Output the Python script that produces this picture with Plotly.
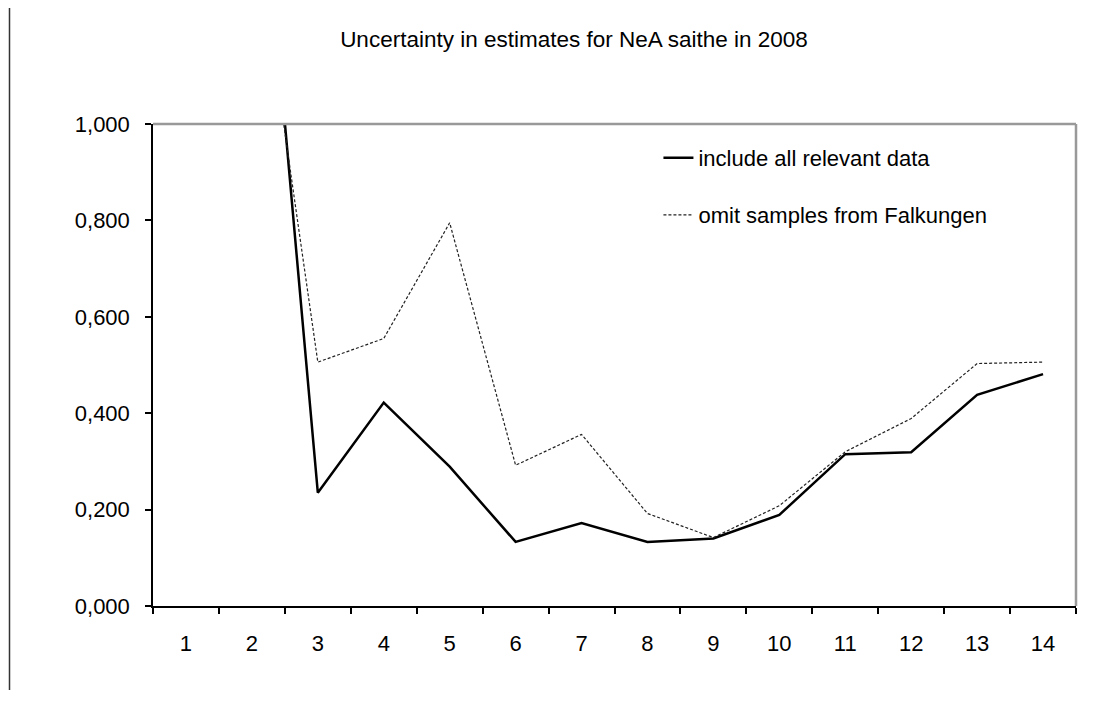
import plotly.graph_objects as go

categories = [str(i) for i in range(1, 15)]
all_data = [None, 1.77, 0.235, 0.422, 0.289, 0.133, 0.172, 0.133, 0.140, 0.189, 0.315, 0.319, 0.438, 0.481]
omit_falkungen = [None, 1.46, 0.506, 0.555, 0.795, 0.292, 0.356, 0.192, 0.142, 0.208, 0.320, 0.389, 0.503, 0.506]
y_ticks = [0, 0.2, 0.4, 0.6, 0.8, 1.0]

FONT = "Liberation Sans, Arial, sans-serif"

# plot area in figure pixels
L, R, T, B = 145, 37, 116, 122
W, H = 1105, 720
PW, PH = W - L - R, H - T - B

fig = go.Figure()
fig.add_trace(go.Scatter(
    x=categories, y=all_data, mode="lines", name="include all relevant data",
    line=dict(color="black", width=2.5), legend="legend", connectgaps=False,
))
fig.add_trace(go.Scatter(
    x=categories, y=omit_falkungen, mode="lines", name="omit samples from Falkungen",
    line=dict(color="#222222", width=1.2, dash="3px,2px"), legend="legend2", connectgaps=False,
))

fig.update_layout(
    width=W, height=H,
    paper_bgcolor="white", plot_bgcolor="white",
    separators=",.",
    font=dict(family=FONT, size=22, color="black"),
    margin=dict(l=L, r=R, t=T, b=B),
    title=dict(text="Uncertainty in estimates for NeA saithe in 2008",
               x=566 / W, xref="container", xanchor="center",
               y=1 - 31 / H, yref="container", yanchor="middle",
               font=dict(family=FONT, size=22.5, color="black")),
    xaxis=dict(type="category", range=[-0.5, 13.5], tickson="boundaries",
               ticks="outside", ticklen=6, tickcolor="black", tickwidth=1.5,
               showline=True, linecolor="black", linewidth=1.5,
               showgrid=False, zeroline=False, ticklabelstandoff=17),
    yaxis=dict(range=[0, 1.0], tickvals=y_ticks, tickformat=".3f",
               ticks="outside", ticklen=6, tickcolor="black", tickwidth=1.5,
               showline=True, linecolor="black", linewidth=1.5,
               showgrid=False, zeroline=False, ticklabelstandoff=11),
    legend=dict(x=0.5476, y=(598 - 150) / PH, xanchor="left", yanchor="middle",
                bgcolor="rgba(0,0,0,0)", font=dict(family=FONT, size=22)),
    legend2=dict(x=0.5476, y=(598 - 207) / PH, xanchor="left", yanchor="middle",
                 bgcolor="rgba(0,0,0,0)", font=dict(family=FONT, size=22)),
    showlegend=True,
)

# Plot-area border on top and right (grey), as in the source chart
fig.add_shape(type="line", xref="paper", yref="paper", x0=0, x1=1, y0=1, y1=1,
              line=dict(color="#999999", width=2.5))
fig.add_shape(type="line", xref="paper", yref="paper", x0=1, x1=1, y0=0, y1=1,
              line=dict(color="#999999", width=2.5))
# left frame edge of the original picture
fx = (1.5 - L) / PW
fig.add_shape(type="line", xref="paper", yref="paper",
              x0=fx, x1=fx, y0=(598 - 682) / PH, y1=(598 + 1) / PH,
              line=dict(color="#333333", width=1.5))

fig.write_html("out.html")
